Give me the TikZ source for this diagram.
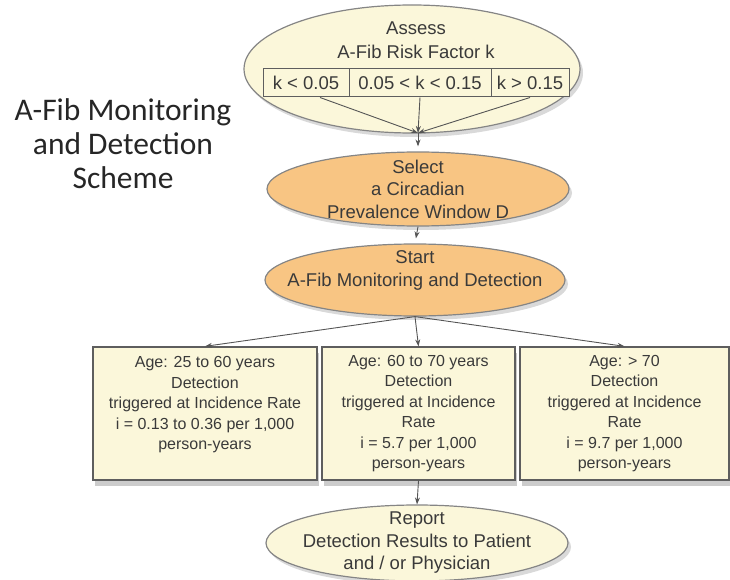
\documentclass[tikz,border=0pt]{standalone}
\usepackage{fontspec}
\setmainfont{Liberation Sans}
\newfontfamily\titlefont{Carlito}
\usepackage{xcolor}
\usetikzlibrary{shapes.geometric, positioning, arrows.meta, shadows}

\definecolor{paleyellow}{HTML}{FBF7DA}
\definecolor{softorange}{HTML}{F8C583}
\definecolor{edgegray}{HTML}{858585}
\definecolor{boxgray}{HTML}{5E5E5E}
\definecolor{linegray}{HTML}{555555}
\definecolor{textgray}{HTML}{3A3A3A}

\begin{document}
\begin{tikzpicture}[x=1pt, y=-1pt,
    stage/.style={ellipse, draw=edgegray, line width=1.2pt, inner sep=-30pt,
        align=center, text=textgray, font=\fontsize{18.5}{22.5}\selectfont,
        drop shadow={shadow xshift=3pt, shadow yshift=-4pt, opacity=.3}},
    riskcell/.style={rectangle, draw=boxgray, line width=1pt, fill=paleyellow,
        inner sep=0pt, minimum height=28pt, text=textgray,
        font=\fontsize{18.5}{22}\selectfont},
    agebox/.style={rectangle, draw=boxgray, line width=1.3pt, fill=paleyellow,
        inner sep=0pt, minimum height=133pt, align=center, text=textgray,
        font=\fontsize{16}{20.5}\selectfont,
        drop shadow={shadow xshift=2pt, shadow yshift=-6pt, opacity=.4}},
    flow/.style={draw=linegray, line width=0.9pt, -{Stealth[length=7pt, width=5pt]}}]

    \useasboundingbox (0,0) rectangle (730,580);

    % Heading on the left
    \node[font=\titlefont\fontsize{31.5}{34}\selectfont, align=center, text=black!85]
        (heading) at (123,144) {A-Fib Monitoring\\and Detection\\Scheme};

    % Risk assessment with its three ranges of k
    \node[stage, fill=paleyellow, minimum width=336pt, minimum height=128pt] (assess) at (412,69) {};
    \node[align=center, text=textgray, font=\fontsize{18.5}{24}\selectfont]
        (assesstxt) at (416,40) {Assess\\A-Fib Risk Factor k};
    \node[riskcell, minimum width=86pt] (klow) at (306,83) {k < 0.05};
    \node[riskcell, minimum width=142pt] (kmid) at (420,83) {0.05 < k < 0.15};
    \node[riskcell, minimum width=78pt] (khigh) at (530,83) {k > 0.15};
    \coordinate (merge) at (418,133);

    % Window selection and start of monitoring
    \node[stage, fill=softorange, minimum width=302pt, minimum height=74pt] (select) at (418,189)
        {Select\\a Circadian\\Prevalence Window D};
    \node[stage, fill=softorange, minimum width=300pt, minimum height=72pt] (start) at (415,280)
        {Start\\A-Fib Monitoring and Detection\\~};

    % One box per age group
    \node[agebox, minimum width=224pt] (young) at (205,413.5)
        {Age: 25 to 60 years\\Detection\\triggered at Incidence Rate\\i = 0.13 to 0.36 per 1,000\\person-years\\~};
    \node[agebox, minimum width=193pt] (middle) at (418.5,413.5)
        {Age: 60 to 70 years\\Detection\\triggered at Incidence\\Rate\\i = 5.7 per 1,000\\person-years};
    \node[agebox, minimum width=209pt] (old) at (624.5,413.5)
        {Age: > 70\\Detection\\triggered at Incidence\\Rate\\i = 9.7 per 1,000\\person-years};

    % Reporting
    \node[stage, fill=paleyellow, minimum width=302pt, minimum height=76pt] (report) at (417,543)
        {Report\\Detection Results to Patient\\and / or Physician};

    % Connectors
    \draw[flow] ([xshift=14pt]klow.south) -- (merge);
    \draw[flow] (kmid.south) -- (merge);
    \draw[flow] (khigh.south) -- (merge);
    \draw[flow, shorten >=5pt] (merge) -- (select.north);
    \draw[flow, shorten >=5pt] (select.south) -- (start.north);
    \draw[flow] (start.south) -- (young.north);
    \draw[flow] (start.south) -- (middle.north);
    \draw[flow] (start.south) -- (old.north);
    \draw[flow] (middle.south) -- (report.north);

\end{tikzpicture}
\end{document}
